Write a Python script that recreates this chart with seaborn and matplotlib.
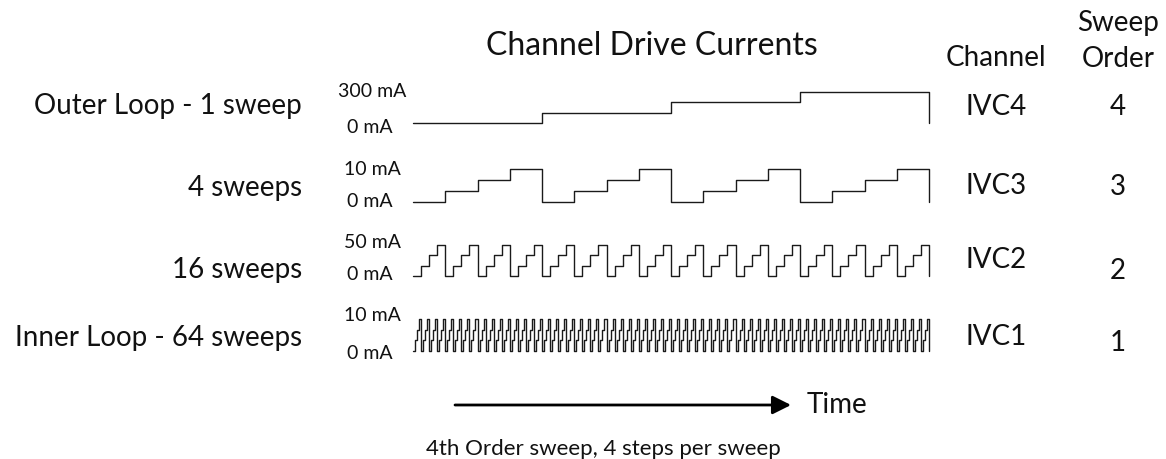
import numpy as np
import pandas as pd
import matplotlib
matplotlib.use("Agg")
import matplotlib.pyplot as plt
import seaborn as sns

# ---- data ----
step_levels = [0, 1, 2, 3]            # 4 steps per sweep
sweep_counts = [1, 4, 16, 64]         # sweeps per channel (outer -> inner)
channels = ["IVC4", "IVC3", "IVC2", "IVC1"]
sweep_order = ["4", "3", "2", "1"]
row_labels = ["Outer Loop - 1 sweep", "4 sweeps", "16 sweeps", "Inner Loop - 64 sweeps"]
top_labels = ["300 mA", "10 mA", "50 mA", "10 mA"]
bottom_label = "0 mA"
total_steps = 256

sns.set_theme(style="white")
plt.rcParams["font.family"] = ["Lato", "DejaVu Sans"]
plt.rcParams["font.weight"] = "normal"

W, H = 1166, 459
fig = plt.figure(figsize=(W / 100, H / 100), dpi=100)

# layout (pixels)
x0, x1 = 413, 929
rows_px = [(123, 92), (202, 169), (276, 245), (351, 319)]   # (baseline, top)
line_color = "#1a1a1a"

for n, (b, t) in zip(sweep_counts, rows_px):
    hold = total_steps // (n * len(step_levels))
    seq = np.tile(np.repeat(step_levels, hold), n)
    df = pd.DataFrame({"t": np.arange(total_steps + 1),
                       "level": np.append(seq, 0)})
    ax = fig.add_axes([x0 / W, 1 - b / H, (x1 - x0) / W, (b - t) / H])
    sns.lineplot(data=df, x="t", y="level", ax=ax, drawstyle="steps-post",
                 color=line_color, lw=1.0, estimator=None, sort=False)
    for ln in ax.lines:
        ln.set_clip_on(False)
    ax.set_xlim(0, total_steps)
    ax.set_ylim(0, max(step_levels))
    ax.axis("off")

# overlay axes in pixel coordinates for annotations
ov = fig.add_axes([0, 0, 1, 1])
ov.set_xlim(0, W)
ov.set_ylim(H, 0)
ov.axis("off")
ov.patch.set_alpha(0)

tc = "#111111"
ov.text(652, 55, "Channel Drive Currents", fontsize=23, ha="center", va="baseline", color=tc)
ov.text(996, 66, "Channel", fontsize=20, ha="center", va="baseline", color=tc)
ov.text(1118, 31, "Sweep", fontsize=20, ha="center", va="baseline", color=tc)
ov.text(1118, 67, "Order", fontsize=20, ha="center", va="baseline", color=tc)

row_base = [114, 196, 278, 346]
ch_base = [115, 194, 268, 345]
ord_base = [115, 195, 279, 351]
top_lab_base = [97, 175, 248, 321]
bot_lab_base = [133, 207, 280, 359]

for i in range(4):
    ov.text(302, row_base[i], row_labels[i], fontsize=20, ha="right", va="baseline", color=tc)
    ov.text(996, ch_base[i], channels[i], fontsize=20, ha="center", va="baseline", color=tc)
    ov.text(1118, ord_base[i], sweep_order[i], fontsize=20, ha="center", va="baseline", color=tc)
    ov.text(372, top_lab_base[i], top_labels[i], fontsize=14, ha="center", va="baseline", color=tc)
    ov.text(370, bot_lab_base[i], bottom_label, fontsize=14, ha="center", va="baseline", color=tc)

ov.annotate("", xy=(791, 405), xytext=(455, 405),
            arrowprops=dict(arrowstyle="-|>", lw=2.0, color="black",
                            mutation_scale=28, shrinkA=0, shrinkB=0))
ov.text(807, 413, "Time", fontsize=20, ha="left", va="baseline", color=tc)
ov.text(603, 455, "4th Order sweep, 4 steps per sweep", fontsize=16, ha="center", va="baseline", color=tc)

fig.savefig("out.png", dpi=100)
